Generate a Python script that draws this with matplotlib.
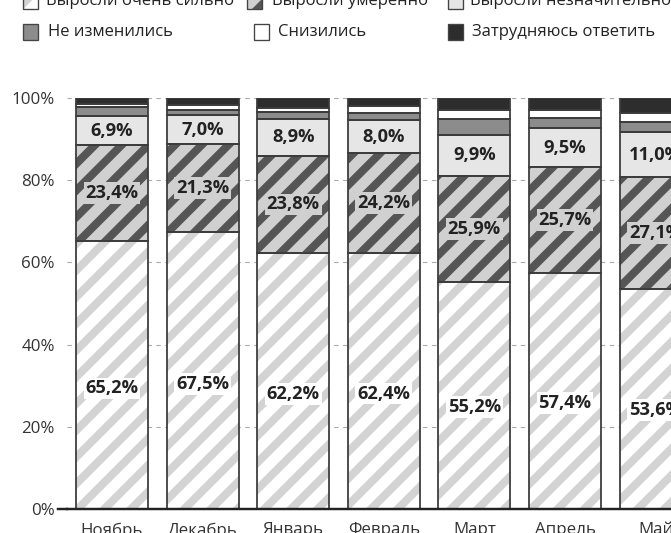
import matplotlib
matplotlib.use("Agg")
import matplotlib.pyplot as plt
from matplotlib.patches import Rectangle
from matplotlib.lines import Line2D

months = ['Ноябрь', 'Декабрь', 'Январь', 'Февраль', 'Март', 'Апрель', 'Май']
very_strong = [65.2, 67.5, 62.2, 62.4, 55.2, 57.4, 53.6]
moderate = [23.4, 21.3, 23.8, 24.2, 25.9, 25.7, 27.1]
slight = [6.9, 7.0, 8.9, 8.0, 9.9, 9.5, 11.0]
unchanged = [2.2, 1.2, 1.8, 1.7, 4.0, 2.6, 2.5]
decreased = [0.8, 1.3, 0.9, 1.7, 2.1, 1.8, 2.1]
hard_to_say = [1.5, 1.7, 2.4, 2.0, 2.9, 3.0, 3.7]
yticks = [0, 20, 40, 60, 80, 100]
ytick_labels = ['0%', '20%', '40%', '60%', '80%', '100%']

legend_names = ['Выросли очень сильно', 'Выросли умеренно', 'Выросли незначительно',
                'Не изменились', 'Снизились', 'Затрудняюсь ответить']

DPI = 160
W, H = 671, 533
plt.rcParams['font.family'] = ['Open Sans', 'DejaVu Sans']
plt.rcParams['hatch.linewidth'] = 3.6

# style per series: (face, hatch colour or None)
styles = [
    ('#ffffff', '#d3d3d3'),
    ('#d0d0d0', '#555555'),
    ('#e6e6e6', None),
    ('#8c8c8c', None),
    ('#ffffff', None),
    ('#2d2d2d', None),
]
series = [very_strong, moderate, slight, unchanged, decreased, hard_to_say]
HATCH = '//'

fig = plt.figure(figsize=(W / DPI, H / DPI), dpi=DPI)
ax = fig.add_axes([67 / W, (H - 509) / H, (W - 67) / W, (509 - 98) / H])

spacing = 90.6
x0 = 112
ax.set_xlim(-(x0 - 67) / spacing, (W - x0) / spacing)
ax.set_ylim(0, 100)
bw = 72 / spacing
xs = list(range(len(months)))

bottoms = [0.0] * len(months)
for si, (vals, (face, hcol)) in enumerate(zip(series, styles)):
    if hcol is not None:
        ax.bar(xs, vals, bw, bottom=bottoms, color=face, edgecolor=hcol,
               hatch=HATCH, linewidth=0, zorder=2)
    else:
        ax.bar(xs, vals, bw, bottom=bottoms, color=face, linewidth=0, zorder=2)
    ax.bar(xs, vals, bw, bottom=bottoms, fill=False, edgecolor='#3c3c3c',
           linewidth=0.8, zorder=3)
    if si < 3:
        for i, v in enumerate(vals):
            frac = 0.45 if si == 0 else 0.5
            ax.text(xs[i], bottoms[i] + v * frac, f"{v:.1f}".replace('.', ',') + '%',
                    ha='center', va='center', fontsize=8.2, fontweight='bold',
                    color='#222222', zorder=5,
                    bbox=dict(boxstyle='square,pad=0.1', fc=face, ec='none'))
    bottoms = [b + v for b, v in zip(bottoms, vals)]

ax.set_yticks(yticks)
ax.set_yticklabels(ytick_labels)
ax.set_xticks(xs)
ax.set_xticklabels(months)
ax.tick_params(axis='y', length=0, pad=5.5, labelsize=7.6, labelcolor='#333333')
ax.tick_params(axis='x', length=0, pad=6.0, labelsize=7.6, labelcolor='#333333')
for s in ['left', 'right', 'top']:
    ax.spines[s].set_visible(False)
ax.spines['bottom'].set_color('#222222')
ax.spines['bottom'].set_linewidth(1.1)
ax.spines['bottom'].set_zorder(4)
ax.set_axisbelow(True)
ax.grid(axis='y', color='#aaaaaa', linestyle=(0, (4, 4)), linewidth=0.5)
ax.grid(axis='x', visible=False)
fig.add_artist(Line2D([58 / W, 67 / W], [(H - 509) / H] * 2, color='#222222', lw=1.1))

# legend, built manually
leg_pos = [  # (patch_left_px, center_y_px, text_x_px)
    (23, 1, 46), (247, 1, 272), (448, 1, 470),
    (23, 32, 48), (254, 32, 278), (448, 32, 472),
]
ps = 15
for (px, cy, tx), name, (face, hcol) in zip(leg_pos, legend_names, styles):
    if hcol is not None:
        r = Rectangle((px / W, (H - cy - ps / 2) / H), ps / W, ps / H,
                      transform=fig.transFigure, facecolor=face, edgecolor=hcol,
                      hatch=HATCH, linewidth=0)
        fig.add_artist(r)
    else:
        fig.add_artist(Rectangle((px / W, (H - cy - ps / 2) / H), ps / W, ps / H,
                                 transform=fig.transFigure, facecolor=face, linewidth=0))
    fig.add_artist(Rectangle((px / W, (H - cy - ps / 2) / H), ps / W, ps / H,
                             transform=fig.transFigure, fill=False,
                             edgecolor='#444444', linewidth=0.6))
    fig.text(tx / W, (H - cy) / H, name, ha='left', va='center', fontsize=7.5,
             color='#222222')

fig.savefig('out.png', dpi=DPI)
